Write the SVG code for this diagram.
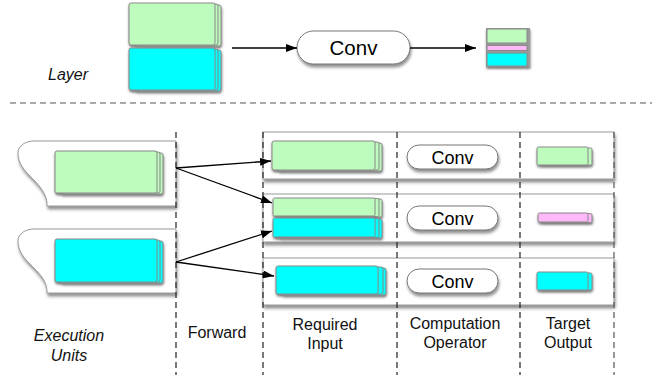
<svg xmlns="http://www.w3.org/2000/svg" width="652" height="375" viewBox="0 0 652 375">
<defs>
<style>
.g{fill:#BEFCBE;stroke:#888;stroke-width:1}
.c{fill:#00FFFF;stroke:#888;stroke-width:1}
.p{fill:#FFB8F8;stroke:#888;stroke-width:1}
.pill{fill:#fff;stroke:#777;stroke-width:1}
.panel{fill:#fff;stroke:#999;stroke-width:1}
.unit{fill:#fff;stroke:#999;stroke-width:1}
.vd{stroke:#222;stroke-width:1.2;stroke-dasharray:6 4;fill:none}
.hd{stroke:#555;stroke-width:1.2;stroke-dasharray:6 4;fill:none}
.ar{stroke:#000;stroke-width:1.3;fill:none}
.lbl{font-family:"Liberation Sans",Arial,sans-serif;font-size:16px;fill:#111;text-anchor:middle}
.it{font-style:italic}
.cv{font-family:"Liberation Sans",Arial,sans-serif;fill:#000;text-anchor:middle}
</style>
<filter id="sh" x="-10%" y="-20%" width="130%" height="160%">
<feDropShadow dx="0.5" dy="2" stdDeviation="1" flood-color="#444" flood-opacity="0.7"/>
</filter>
<filter id="sh2" x="-10%" y="-20%" width="130%" height="160%">
<feDropShadow dx="1" dy="3" stdDeviation="1.5" flood-color="#555" flood-opacity="0.65"/>
</filter>
<marker id="ah" markerUnits="userSpaceOnUse" markerWidth="11" markerHeight="8" refX="11" refY="4" orient="auto">
<path d="M0,0 L11,4 L0,8 Z" fill="#000"/>
</marker>
</defs>

<!-- top section -->
<g id="layer-label"><text class="lbl it" x="68" y="80">Layer</text></g>

<g id="layer-input" filter="url(#sh)">
<rect class="g" x="135" y="5" width="86" height="41" rx="2"/>
<rect class="g" x="132" y="4" width="86" height="41" rx="2"/>
<rect class="g" x="129" y="3" width="86" height="42" rx="2"/>
<rect class="c" x="135" y="50" width="86" height="41" rx="2"/>
<rect class="c" x="132" y="49" width="86" height="41" rx="2"/>
<rect class="c" x="129" y="48" width="86" height="42" rx="2"/>
</g>

<g id="layer-conv">
<rect class="pill" x="297" y="31" width="113" height="33" rx="16.5" filter="url(#sh2)"/>
<text class="cv" x="353.5" y="55" font-size="20.5">Conv</text>
</g>

<g id="layer-output" filter="url(#sh)">
<rect x="486" y="28" width="44" height="39" fill="#9a9a9a"/>
<rect class="g" x="487" y="29" width="40" height="14"/>
<rect class="p" x="487" y="45.5" width="40" height="5"/>
<rect class="c" x="487" y="53" width="40" height="13"/>
</g>

<line class="hd" x1="10" y1="103" x2="652" y2="103"/>

<!-- bottom section: panels -->
<g id="row1">
<rect class="panel" x="263" y="132" width="351" height="47" filter="url(#sh2)"/>
<g filter="url(#sh)">
<rect class="g" x="278" y="143" width="104" height="28" rx="2"/>
<rect class="g" x="275" y="142" width="104" height="28" rx="2"/>
<rect class="g" x="272" y="141" width="103" height="29" rx="2"/>
</g>
<rect class="pill" x="407" y="145" width="91" height="24" rx="12" filter="url(#sh2)"/>
<text class="cv" x="452.5" y="163.5" font-size="18">Conv</text>
<g filter="url(#sh)">
<rect class="g" x="540" y="148" width="52" height="17" rx="1.5"/>
<rect class="g" x="537" y="147" width="51" height="18" rx="1.5"/>
</g>
</g>

<g id="row2">
<rect class="panel" x="263" y="194" width="351" height="48" filter="url(#sh2)"/>
<g filter="url(#sh)">
<rect class="g" x="279" y="199" width="103" height="18" rx="1.5"/>
<rect class="g" x="276" y="198.5" width="103" height="18" rx="1.5"/>
<rect class="g" x="273" y="198" width="102" height="18" rx="1.5"/>
<rect class="c" x="279" y="219" width="103" height="19" rx="1.5"/>
<rect class="c" x="276" y="218.5" width="103" height="19" rx="1.5"/>
<rect class="c" x="273" y="218" width="102" height="19" rx="1.5"/>
</g>
<rect class="pill" x="407" y="206" width="91" height="24" rx="12" filter="url(#sh2)"/>
<text class="cv" x="452.5" y="224.5" font-size="18">Conv</text>
<g filter="url(#sh)">
<rect class="p" x="541" y="213.5" width="51" height="9" rx="1.5"/>
<rect class="p" x="538" y="213" width="50" height="9" rx="1.5"/>
</g>
</g>

<g id="row3">
<rect class="panel" x="263" y="258" width="351" height="47" filter="url(#sh2)"/>
<g filter="url(#sh)">
<rect class="c" x="282" y="268" width="104" height="27" rx="2"/>
<rect class="c" x="279" y="267" width="104" height="27" rx="2"/>
<rect class="c" x="276" y="266" width="102" height="28" rx="2"/>
</g>
<rect class="pill" x="407" y="269" width="91" height="24" rx="12" filter="url(#sh2)"/>
<text class="cv" x="452.5" y="287.5" font-size="18">Conv</text>
<g filter="url(#sh)">
<rect class="c" x="540" y="273" width="52" height="17" rx="1.5"/>
<rect class="c" x="537" y="272" width="51" height="18" rx="1.5"/>
</g>
</g>

<!-- execution units -->
<g id="unit1">
<path class="unit" filter="url(#sh2)" d="M34,141 L176,141 L176,206 L47,206 C48,194 38,184 29,175 C21,167 18,160 18,153 C18,146 25,141 34,141 Z"/>
<g filter="url(#sh)">
<rect class="g" x="61" y="153" width="102" height="41" rx="2"/>
<rect class="g" x="58" y="152" width="102" height="41" rx="2"/>
<rect class="g" x="55" y="151" width="102" height="42" rx="2"/>
</g>
</g>

<g id="unit2">
<path class="unit" filter="url(#sh2)" d="M34,229 L176,229 L176,293 L47,293 C48,281 38,272 29,263 C21,255 18,248 18,241 C18,234 25,229 34,229 Z"/>
<g filter="url(#sh)">
<rect class="c" x="61" y="241" width="102" height="42" rx="2"/>
<rect class="c" x="58" y="240" width="102" height="42" rx="2"/>
<rect class="c" x="55" y="239" width="102" height="43" rx="2"/>
</g>
</g>

<!-- column dividers -->
<g id="dividers">
<line class="vd" x1="176" y1="132" x2="176" y2="375"/>
<line class="vd" x1="263" y1="132" x2="263" y2="375"/>
<line class="vd" x1="397" y1="132" x2="397" y2="375"/>
<line class="vd" x1="520" y1="132" x2="520" y2="375"/>
<line class="vd" x1="614" y1="132" x2="614" y2="375" style="stroke:#555"/>
</g>

<!-- connectors -->
<g id="connectors">
<line class="ar" x1="232" y1="48" x2="297" y2="48" marker-end="url(#ah)"/>
<line class="ar" x1="410" y1="48" x2="476" y2="48" marker-end="url(#ah)"/>
<line class="ar" x1="176" y1="168" x2="271" y2="161" marker-end="url(#ah)"/>
<line class="ar" x1="176" y1="168" x2="272" y2="203" marker-end="url(#ah)"/>
<line class="ar" x1="176" y1="262" x2="272" y2="231" marker-end="url(#ah)"/>
<line class="ar" x1="176" y1="262" x2="274" y2="276" marker-end="url(#ah)"/>
</g>

<!-- labels -->
<g id="labels">
<text class="lbl it" x="69" y="341">Execution</text>
<text class="lbl it" x="69" y="361">Units</text>
<text class="lbl" x="217" y="338">Forward</text>
<text class="lbl" x="325" y="330">Required</text>
<text class="lbl" x="325" y="349">Input</text>
<text class="lbl" x="455" y="329">Computation</text>
<text class="lbl" x="455" y="348">Operator</text>
<text class="lbl" x="568" y="329">Target</text>
<text class="lbl" x="568" y="348">Output</text>
</g>
</svg>
